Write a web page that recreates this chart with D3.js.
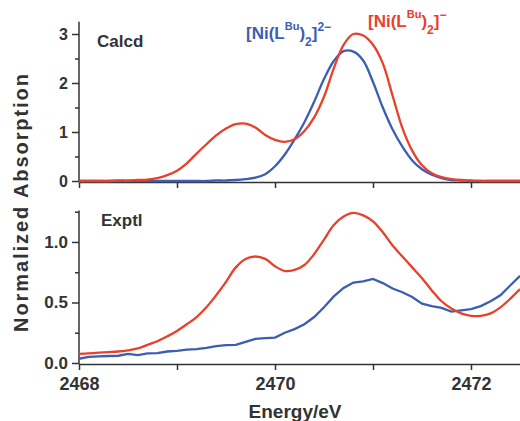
<!DOCTYPE html>
<meta charset="utf-8">
<style>
body { margin: 0; background: #fff; }
svg { font-family: "Liberation Sans", Arial, sans-serif; font-weight: bold; }
.axis path, .axis line { stroke: #333; stroke-width: 1.5px; }
.axis text { fill: #333; font-weight: bold; font-family: "Liberation Sans", Arial, sans-serif; }
.line { fill: none; stroke-width: 2.3px; }
</style>
<svg width="520" height="421"></svg>
<script src="https://cdn.jsdelivr.net/npm/d3@7"></script>
<script>

// energies for calculated and experimental spectra (eV)
const energy = [2468.0, 2468.1, 2468.2, 2468.3, 2468.4, 2468.5, 2468.6, 2468.7, 2468.8, 2468.9,
  2469.0, 2469.1, 2469.2, 2469.3, 2469.4, 2469.5, 2469.6, 2469.7, 2469.8, 2469.9,
  2470.0, 2470.1, 2470.2, 2470.3, 2470.4, 2470.5, 2470.6, 2470.7, 2470.8, 2470.9,
  2471.0, 2471.1, 2471.2, 2471.3, 2471.4, 2471.5, 2471.6, 2471.7, 2471.8, 2471.9,
  2472.0, 2472.1, 2472.2, 2472.3, 2472.4, 2472.5];

const calcdMono = [0, 0, 0, 0, 0.01, 0.01, 0.02, 0.03, 0.06, 0.12,
  0.21, 0.36, 0.56, 0.75, 0.93, 1.07, 1.16, 1.17, 1.09, 0.94,
  0.84, 0.80, 0.85, 1.02, 1.30, 1.72, 2.30, 2.78, 3.00, 2.97,
  2.78, 2.40, 1.74, 1.08, 0.62, 0.32, 0.16, 0.08, 0.04, 0.02,
  0.01, 0, 0, 0, 0, 0];

const calcdDi = [0, 0, 0, 0, 0, 0, 0, 0, 0, 0,
  0, 0, 0, 0, 0.01, 0.01, 0.02, 0.04, 0.07, 0.14,
  0.30, 0.54, 0.85, 1.20, 1.62, 2.08, 2.45, 2.65, 2.64, 2.46,
  2.02, 1.50, 1.05, 0.70, 0.42, 0.24, 0.13, 0.06, 0.02, 0.01,
  0, 0, 0, 0, 0, 0];

const exptlMono = [0.075, 0.08, 0.085, 0.09, 0.095, 0.105, 0.12, 0.15, 0.18, 0.22,
  0.265, 0.32, 0.38, 0.46, 0.56, 0.67, 0.79, 0.86, 0.88, 0.86,
  0.80, 0.76, 0.77, 0.81, 0.90, 1.02, 1.14, 1.21, 1.24, 1.22,
  1.17, 1.08, 0.97, 0.88, 0.79, 0.70, 0.60, 0.51, 0.45, 0.41,
  0.39, 0.39, 0.41, 0.46, 0.53, 0.61];

const exptlDi = [0.035, 0.05, 0.055, 0.058, 0.06, 0.075, 0.065, 0.08, 0.082, 0.095,
  0.10, 0.11, 0.115, 0.125, 0.14, 0.148, 0.15, 0.175, 0.20, 0.205,
  0.21, 0.25, 0.28, 0.32, 0.38, 0.46, 0.55, 0.62, 0.665, 0.675,
  0.695, 0.66, 0.615, 0.585, 0.545, 0.49, 0.47, 0.455, 0.425, 0.435,
  0.445, 0.47, 0.51, 0.56, 0.64, 0.72];

const xTicks = [2468, 2469, 2470, 2471, 2472];
const xLabels = [2468, 2470, 2472];
const topTicks = [0, 1, 2, 3];
const topMinor = [0.5, 1.5, 2.5];
const botTicks = [0, 0.5, 1.0];
const botMinor = [0.25, 0.75, 1.25];

const red = "#e8412b", blue = "#3b5eb3";

const svg = d3.select("svg");

const x = d3.scaleLinear().domain([2468, 2472.5]).range([79, 520]);
const yTop = d3.scaleLinear().domain([0, 3.25]).range([181, 21.75]);
const yBot = d3.scaleLinear().domain([0, 1.26]).range([363, 210.5]);

svg.append("defs").append("clipPath").attr("id", "clip")
  .append("rect").attr("x", 79).attr("y", 0).attr("width", 441).attr("height", 421);

function panel(y, axisY, major, minor, fmt, ySize, series, showLabels) {
  // x axis
  const xa = svg.append("g").attr("class", "axis")
      .attr("transform", "translate(0," + axisY + ")")
      .call(d3.axisBottom(x).tickValues(xTicks).tickSize(6).tickSizeOuter(0)
        .tickFormat(d => showLabels && xLabels.includes(d) ? d : ""));
  xa.selectAll("text").attr("dy", "0.95em").style("font-size", "18px");

  // y axis
  const ya = svg.append("g").attr("class", "axis")
      .attr("transform", "translate(79,0)")
      .call(d3.axisLeft(y).tickValues(major).tickSize(7).tickSizeOuter(0).tickFormat(fmt));
  ya.select(".domain").attr("d", "M0," + axisY + "V" + y.range()[1]);
  ya.selectAll("text").attr("x", -11).style("font-size", ySize);
  svg.append("g").attr("class", "axis")
      .attr("transform", "translate(79,0)")
      .call(d3.axisLeft(y).tickValues(minor).tickSize(4).tickFormat(""))
      .select(".domain").remove();

  series.forEach(s => {
    const line = d3.line().x((d, i) => x(energy[i])).y(d => y(d)).curve(s.curve);
    svg.append("path").datum(s.values)
      .attr("class", "line").attr("clip-path", "url(#clip)")
      .attr("stroke", s.color).attr("d", line);
  });
}

panel(yTop, 182, topTicks, topMinor, d3.format("d"), "16px",
  [{values: calcdDi, color: blue, curve: d3.curveCatmullRom},
   {values: calcdMono, color: red, curve: d3.curveCatmullRom}], false);
panel(yBot, 364, botTicks, botMinor, d3.format(".1f"), "17px",
  [{values: exptlDi, color: blue, curve: d3.curveLinear},
   {values: exptlMono, color: red, curve: d3.curveCatmullRom}], true);

// panel labels
svg.append("text").attr("x", 97).attr("y", 47).attr("fill", "#333")
  .style("font-size", "17px").text("Calcd");
svg.append("text").attr("x", 101).attr("y", 226).attr("fill", "#333")
  .style("font-size", "17px").text("Exptl");

// axis titles
svg.append("text").attr("x", 295).attr("y", 418).attr("text-anchor", "middle")
  .attr("fill", "#333").style("font-size", "19px").text("Energy/eV");
svg.append("text").attr("transform", "translate(28,203) rotate(-90)")
  .attr("text-anchor", "middle").attr("fill", "#333")
  .style("font-size", "20px").attr("textLength", 258).text("Normalized Absorption");

// legend labels
function complex(xp, yp, color, charge) {
  const t = svg.append("text").attr("x", xp).attr("y", yp).attr("fill", color)
    .style("font-size", "17px");
  t.append("tspan").text("[Ni(L");
  t.append("tspan").attr("dy", -9).style("font-size", "11px").text("Bu");
  t.append("tspan").attr("dy", 9).text(")");
  t.append("tspan").attr("dy", 7).style("font-size", "12px").text("2");
  t.append("tspan").attr("dy", -7).text("]");
  t.append("tspan").attr("dy", -8).style("font-size", "12px").text(charge);
}
complex(246, 39, blue, "2\u2212");
complex(368, 27, red, "\u2212");

</script>
